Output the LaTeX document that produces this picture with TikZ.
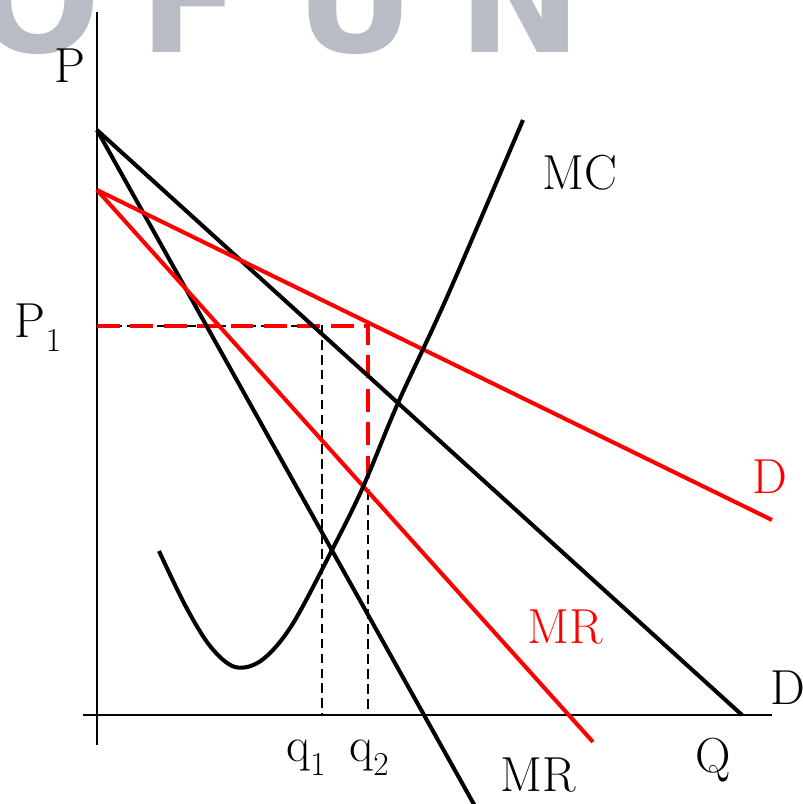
\documentclass[tikz,border=0pt]{standalone}
\usepackage{fontspec}
\newfontfamily\markfont{DejaVu Sans}
\usetikzlibrary{positioning}

\definecolor{markgray}{RGB}{184,188,196}

\newcommand\lowidx[1]{\raisebox{-0.28em}{\fontsize{19}{20}\selectfont #1}}

\tikzset{
  curve/.style={line width=2.3pt},
  redcurve/.style={curve, red},
  axis/.style={line width=1.1pt},
  guide/.style={line width=1.1pt, dash pattern=on 5.5pt off 3pt},
  redguide/.style={red, line width=2.3pt, dash pattern=on 13pt off 6pt},
  lbl/.style={font=\fontsize{28}{30}\selectfont, inner sep=0pt},
  wmletter/.style={font=\markfont\bfseries\fontsize{84}{84}\selectfont,
    text=markgray, anchor=base, inner sep=0pt}
}

\begin{document}
\begin{tikzpicture}[x=0.02cm,y=-0.02cm]
\useasboundingbox (0,0) rectangle (802,804);

% Watermark (cut off by the top edge)
\begin{scope}
  \clip (0,0) rectangle (802,804);
  \foreach \ch/\x in {O/38, F/190, U/355, N/520}{
    \node[wmletter] (wm\ch) at (\x,53) {\ch};
  }
\end{scope}

% Key points
\coordinate (ytop) at (97,12);
\coordinate (ybot) at (97,745);
\coordinate (xleft) at (83,715);
\coordinate (xright) at (772,715);
\coordinate (dtop) at (97,130);
\coordinate (dend) at (742,715);
\coordinate (mrend) at (476,808);
\coordinate (rdtop) at (97,190);
\coordinate (rdend) at (772,520);
\coordinate (rmrend) at (593,742);
\coordinate (pone) at (97,326);
\coordinate (qone) at (322,715);
\coordinate (qtwo) at (368,715);
\coordinate (qoneup) at (322,326);
\coordinate (qtwoup) at (368,326);
\coordinate (qtwomid) at (368,490);

% Axes
\draw[axis] (ytop) -- (ybot);
\draw[axis] (xleft) -- (xright);

% Guides to the axes
\draw[guide] (pone) -- (qoneup) -- (qone);
\draw[guide] (qtwomid) -- (qtwo);
\draw[redguide] (pone) -- (qtwoup) -- (qtwomid);

% Black demand and marginal revenue
\draw[curve] (dtop) -- (dend);
\draw[curve] (dtop) -- (mrend);

% Red demand and marginal revenue
\draw[redcurve] (rdtop) -- (rdend);
\draw[redcurve] (rdtop) -- (rmrend);

% Marginal cost
\draw[curve] plot[smooth, tension=0.55] coordinates {
  (159,551) (185,605) (210,646) (235,667) (262,660) (292,625)
  (332,550) (363,487) (398,403) (447,297) (523,120)};

% Labels
\node[lbl] (plbl) at (70,66) {P};
\node[lbl] (ponelbl) at (38,328) {P\lowidx{1}};
\node[lbl] (mclbl) at (580,173) {MC};
\node[lbl, text=red] (rdlbl) at (770,477) {D};
\node[lbl, text=red] (rmrlbl) at (565,627) {MR};
\node[lbl] (dlbl) at (788,688) {D};
\node[lbl] (mrlbl) at (538,775) {MR};
\node[lbl] (qonelbl) at (306,758) {q\lowidx{1}};
\node[lbl] (qtwolbl) at (369,758) {q\lowidx{2}};
\node[lbl] (qlbl) at (713,760) {Q};
\end{tikzpicture}
\end{document}
